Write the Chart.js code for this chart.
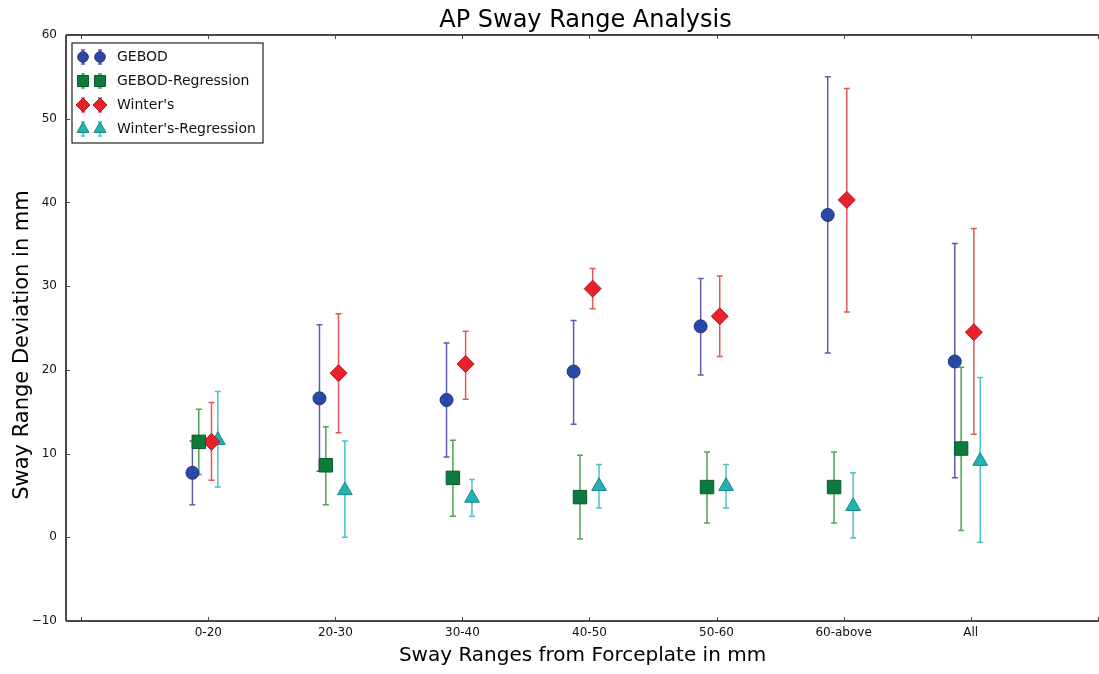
<!DOCTYPE html>
<html>
<head>
<meta charset="utf-8">
<script src="https://cdn.jsdelivr.net/npm/chart.js@4/dist/chart.umd.min.js"></script>
<style>
  html, body { margin: 0; padding: 0; background: #fff; }
  canvas { display: block; }
</style>
</head>
<body>
<canvas id="chart" width="1099" height="674"></canvas>
<script>
// Categorías del eje X
const CATEGORIES = ['0-20', '20-30', '30-40', '40-50', '50-60', '60-above', 'All'];

// Valores (media, extremo inferior y superior de la barra de error)
const GEBOD_MEAN = [7.7, 16.6, 16.4, 19.8, 25.2, 38.5, 21.0];
const GEBOD_LOW  = [3.9, 7.9, 9.6, 13.5, 19.4, 22.0, 7.1];
const GEBOD_HIGH = [11.5, 25.4, 23.2, 25.9, 30.9, 55.0, 35.1];

const GEBOD_REG_MEAN = [11.4, 8.6, 7.1, 4.8, 6.0, 6.0, 10.6];
const GEBOD_REG_LOW  = [7.5, 3.9, 2.5, -0.2, 1.7, 1.7, 0.8];
const GEBOD_REG_HIGH = [15.3, 13.2, 11.6, 9.8, 10.2, 10.2, 20.3];

const WINTER_MEAN = [11.4, 19.6, 20.7, 29.7, 26.4, 40.3, 24.5];
const WINTER_LOW  = [6.8, 12.5, 16.5, 27.3, 21.6, 26.9, 12.3];
const WINTER_HIGH = [16.1, 26.7, 24.6, 32.1, 31.2, 53.6, 36.9];

const WINTER_REG_MEAN = [11.6, 5.6, 4.7, 6.1, 6.1, 3.7, 9.1];
const WINTER_REG_LOW  = [6.0, 0.0, 2.5, 3.5, 3.5, -0.1, -0.6];
const WINTER_REG_HIGH = [17.4, 11.5, 6.9, 8.7, 8.7, 7.7, 19.1];

// Ticks del eje Y
const Y_TICKS = [-10, 0, 10, 20, 30, 40, 50, 60];

const FONT = 'DejaVu Sans';
const TITLE = 'AP Sway Range Analysis';
const Y_TITLE = 'Sway Range Deviation in mm';

function buildPoints(mean, low, high, offset) {
    return mean.map((v, i) => ({ x: i + 1 + offset, y: v, low: low[i], high: high[i] }));
}

const SERIES = [
    { label: 'GEBOD', mean: GEBOD_MEAN, low: GEBOD_LOW, high: GEBOD_HIGH, offset: -0.125,
      style: 'circle', radius: 6.5, fill: '#2a48a6', edge: '#1f3580', bar: '#5c5cae' },
    { label: 'GEBOD-Regression', mean: GEBOD_REG_MEAN, low: GEBOD_REG_LOW, high: GEBOD_REG_HIGH, offset: -0.075,
      style: 'rect', radius: 9.5, fill: '#0e7a3c', edge: '#0a5a2c', bar: '#4fa257' },
    { label: "Winter's", mean: WINTER_MEAN, low: WINTER_LOW, high: WINTER_HIGH, offset: 0.025,
      style: 'rectRot', radius: 8.5, fill: '#e8222c', edge: '#b01a20', bar: '#e0585c' },
    { label: "Winter's-Regression", mean: WINTER_REG_MEAN, low: WINTER_REG_LOW, high: WINTER_REG_HIGH, offset: 0.075,
      style: 'triangle', radius: 8.5, fill: '#22b2b2', edge: '#178888', bar: '#4cc2c8' }
];

// Plugin: ejes estilo matplotlib, títulos y barras de error
const axesPlugin = {
    id: 'mplAxes',
    beforeDatasetsDraw(chart) {
        const { ctx, scales: { y } } = chart;
        ctx.save();
        // barras de error
        chart.data.datasets.forEach((ds, i) => {
            const meta = chart.getDatasetMeta(i);
            ctx.strokeStyle = ds.barColor;
            ctx.lineWidth = 1.5;
            meta.data.forEach((pt, j) => {
                const d = ds.data[j];
                const px = pt.x;
                const y1 = y.getPixelForValue(d.low);
                const y2 = y.getPixelForValue(d.high);
                ctx.beginPath();
                ctx.moveTo(px, y1); ctx.lineTo(px, y2);
                ctx.moveTo(px - 3, y1); ctx.lineTo(px + 3, y1);
                ctx.moveTo(px - 3, y2); ctx.lineTo(px + 3, y2);
                ctx.stroke();
            });
        });
        ctx.restore();
    },
    afterDraw(chart) {
        const { ctx, chartArea: a, scales: { x, y } } = chart;
        ctx.save();
        ctx.strokeStyle = '#4a4a4a';
        ctx.lineWidth = 2;
        ctx.beginPath();
        ctx.moveTo(a.left, a.top); ctx.lineTo(a.right, a.top);
        ctx.moveTo(a.left, a.top); ctx.lineTo(a.left, a.bottom);
        ctx.moveTo(a.left, a.bottom); ctx.lineTo(a.right, a.bottom);
        ctx.stroke();
        // ticks
        ctx.lineWidth = 1;
        ctx.beginPath();
        for (let v = 0; v <= CATEGORIES.length + 1; v++) {
            const px = Math.round(x.getPixelForValue(v)) + 0.5;
            ctx.moveTo(px, a.bottom); ctx.lineTo(px, a.bottom - 4);
            ctx.moveTo(px, a.top); ctx.lineTo(px, a.top + 4);
        }
        Y_TICKS.forEach(v => {
            const py = Math.round(y.getPixelForValue(v)) + 0.5;
            ctx.moveTo(a.left, py); ctx.lineTo(a.left + 4, py);
        });
        ctx.stroke();

        // título principal (centrado sobre el área del gráfico)
        ctx.fillStyle = '#000';
        ctx.font = '24px "' + FONT + '"';
        ctx.textAlign = 'center';
        ctx.textBaseline = 'alphabetic';
        ctx.fillText(TITLE, (a.left + a.right) / 2 + 3, 27);

        // título del eje Y
        ctx.save();
        ctx.translate(23, 345);
        ctx.rotate(-Math.PI / 2);
        ctx.font = '21px "' + FONT + '"';
        ctx.textBaseline = 'middle';
        ctx.fillText(Y_TITLE, 0, 0);
        ctx.restore();

        // leyenda (dos marcadores por entrada, como matplotlib)
        const bx = 72, by = 43, bw = 191, bh = 100;
        ctx.fillStyle = '#fff';
        ctx.fillRect(bx, by, bw, bh);
        ctx.strokeStyle = '#222';
        ctx.lineWidth = 1.2;
        ctx.strokeRect(bx, by, bw, bh);
        chart.data.datasets.forEach((ds, i) => {
            const cy = 57 + i * 24;
            [83, 100].forEach(mx => {
                ctx.strokeStyle = ds.barColor;
                ctx.lineWidth = 1.5;
                ctx.beginPath();
                ctx.moveTo(mx, cy - 7); ctx.lineTo(mx, cy + 7);
                ctx.moveTo(mx - 2, cy - 7); ctx.lineTo(mx + 2, cy - 7);
                ctx.moveTo(mx - 2, cy + 7); ctx.lineTo(mx + 2, cy + 7);
                ctx.stroke();
                ctx.fillStyle = ds.backgroundColor;
                ctx.strokeStyle = ds.borderColor;
                ctx.lineWidth = 1;
                Chart.helpers.drawPoint(ctx, {
                    pointStyle: ds.pointStyle,
                    radius: ds.pointRadius * 0.82,
                    rotation: 0,
                    borderWidth: 1
                }, mx, cy);
            });
            ctx.fillStyle = '#111';
            ctx.font = '14px "' + FONT + '"';
            ctx.textAlign = 'left';
            ctx.textBaseline = 'middle';
            ctx.fillText(ds.label, 117, cy);
        });
        ctx.restore();
    }
};

new Chart(document.getElementById('chart'), {
    type: 'scatter',
    data: {
        datasets: SERIES.map(s => ({
            label: s.label,
            data: buildPoints(s.mean, s.low, s.high, s.offset),
            pointStyle: s.style,
            pointRadius: s.radius,
            pointHoverRadius: s.radius,
            backgroundColor: s.fill,
            borderColor: s.edge,
            borderWidth: 1,
            barColor: s.bar,
            showLine: false
        }))
    },
    plugins: [axesPlugin],
    options: {
        responsive: false,
        animation: false,
        layout: { padding: { top: 35, right: 0, bottom: 0, left: 0 }, autoPadding: false },
        plugins: {
            legend: { display: false },
            tooltip: { enabled: false },
            title: { display: false }
        },
        scales: {
            x: {
                type: 'linear',
                min: -0.12,
                max: 8.01,
                afterBuildTicks: (s) => {
                    s.ticks = [];
                    for (let v = 0; v <= CATEGORIES.length + 1; v++) s.ticks.push({ value: v });
                },
                afterFit: (s) => { s.height = 53; s.paddingRight = 0; s.paddingLeft = 0; },
                grid: { display: false, drawTicks: false },
                border: { display: false },
                ticks: {
                    color: '#111',
                    font: { family: FONT, size: 12 },
                    padding: 5,
                    maxRotation: 0,
                    autoSkip: false,
                    callback: (v) => CATEGORIES[v - 1] || ''
                },
                title: {
                    display: true,
                    text: 'Sway Ranges from Forceplate in mm',
                    color: '#000',
                    font: { family: FONT, size: 20 },
                    padding: { top: 0, bottom: 6 }
                }
            },
            y: {
                min: -10,
                max: 60,
                afterBuildTicks: (s) => { s.ticks = Y_TICKS.map(v => ({ value: v })); },
                afterFit: (s) => { s.width = 66; },
                grid: { display: false, drawTicks: false },
                border: { display: false },
                ticks: {
                    color: '#111',
                    font: { family: FONT, size: 12 },
                    padding: 9,
                    callback: (v) => v < 0 ? '\u2212' + Math.abs(v) : String(v)
                }
            }
        }
    }
});
</script>
</body>
</html>
